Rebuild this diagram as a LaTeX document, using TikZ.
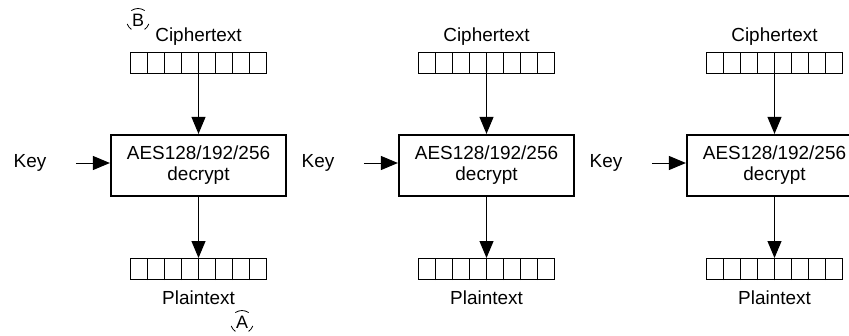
\documentclass[tikz,border=0pt]{standalone}
\usepackage{fontspec}
\setmainfont{Liberation Sans}
\usetikzlibrary{arrows.meta}

\begin{document}
\begin{tikzpicture}[x=1bp, y=1bp,
    every node/.style={font=\fontsize{19}{21}\selectfont},
    reg/.style={draw, line width=1bp, minimum width=136bp, minimum height=21bp, inner sep=0pt},
    aesbox/.style={draw, line width=2.2bp, minimum width=175bp, minimum height=61bp, align=center, inner sep=0pt},
    arr/.style={line width=1bp, -{Triangle[length=17bp, width=14bp]}},
    callout/.style={font=\fontsize{18}{20}\selectfont, inner sep=0pt}]
    \useasboundingbox (0,0) rectangle (849,335);
    \clip (0,0) rectangle (849,335);

    % 三个解密模块
    \foreach \i in {0,1,2} {
        \pgfmathsetmacro{\cx}{198.5+288*\i}
        \node[reg] (ctreg\i) at (\cx, 272.5) {};
        \node (ct\i) at (\cx, 298) {Ciphertext};
        \node[aesbox] (aes\i) at (\cx, 169.5) {AES128/192/256\\decrypt};
        \node[reg] (ptreg\i) at (\cx, 66) {};
        \node (pt\i) at (\cx, 37) {Plaintext};
        \node (key\i) at (\cx-168.5, 172) {Key};

        % 寄存器格子
        \foreach \k in {1,...,7} {
            \draw[line width=1bp] ([xshift=\k*17bp]ctreg\i.south west) -- ([xshift=\k*17bp]ctreg\i.north west);
            \draw[line width=1bp] ([xshift=\k*17bp]ptreg\i.south west) -- ([xshift=\k*17bp]ptreg\i.north west);
        }

        % 数据流
        \draw[arr] (ctreg\i.south) -- (aes\i.north);
        \draw[arr] (aes\i.south) -- (ptreg\i.north);
        \draw[arr] ([xshift=26bp]key\i.east) -- (key\i -| aes\i.west);
    }

    % 标记
    \node[callout] (markB) at (138, 315) {B};
    \node[callout] (markA) at (242, 13) {A};
    \foreach \m in {markB, markA} {
        \draw[line width=0.8bp] ([shift={(55:11.5)}]\m.center) arc[start angle=55, end angle=125, radius=11.5];
        \draw[line width=0.8bp] ([shift={(200:11.5)}]\m.center) arc[start angle=200, end angle=235, radius=11.5];
        \draw[line width=0.8bp] ([shift={(305:11.5)}]\m.center) arc[start angle=305, end angle=340, radius=11.5];
    }
\end{tikzpicture}
\end{document}
